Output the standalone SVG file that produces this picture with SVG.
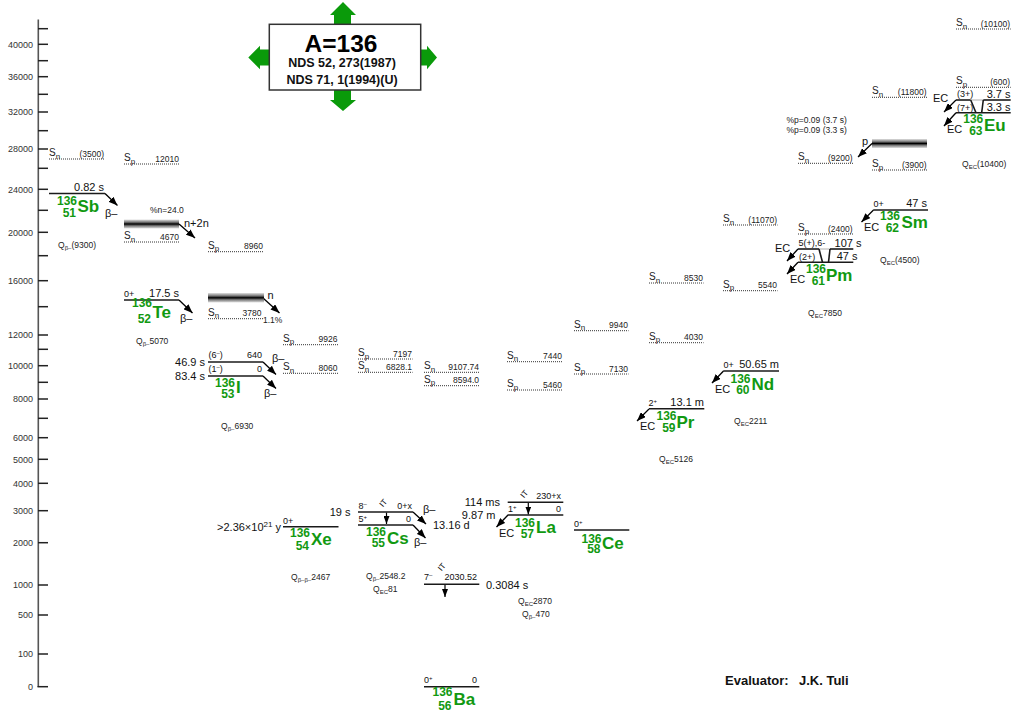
<svg xmlns="http://www.w3.org/2000/svg" width="1017" height="713" viewBox="0 0 1017 713">
<defs>
<style>
text{font-family:"Liberation Sans",Arial,sans-serif}
.ax{stroke:#555;stroke-width:1.6}
.tk{stroke:#222;stroke-width:1.5}
.tl{font-size:9px;fill:#333;text-anchor:end}
.lv{stroke:#1a1a1a;stroke-width:1.6;fill:none}
.lt{stroke:#999;stroke-width:0.8}
.dt{stroke:#333;stroke-width:1;stroke-dasharray:1 1}
.s{font-size:10px;fill:#222}
.sb{font-size:8px}
.sv{font-size:8.5px;fill:#222;text-anchor:end}
.q{font-size:8.5px;fill:#222}
.sp{font-size:9px;fill:#111}
.spe{font-size:9px;fill:#111;text-anchor:end}
.hl{font-size:11px;fill:#111}
.hle{font-size:11px;fill:#111;text-anchor:end}
.na{font-size:12px;font-weight:bold;fill:#119911;text-anchor:end}
.el{font-size:17px;font-weight:bold;fill:#119911}
.arr{stroke:#000;stroke-width:1.3;fill:none;marker-end:url(#ah)}
.itr{stroke:#000;stroke-width:1.2;fill:none;marker-end:url(#ahs)}
.itl{font-size:8px;fill:#111}
.ga{fill:#0a9a0a}
.band{fill:url(#bandg)}
</style>
<marker id="ah" viewBox="0 0 9 7" refX="9" refY="3.5" markerWidth="9" markerHeight="7" markerUnits="userSpaceOnUse" orient="auto"><path d="M0,0 L9,3.5 L0,7 z" fill="#000"/></marker>
<marker id="ahs" viewBox="0 0 8 6" refX="8" refY="3" markerWidth="8" markerHeight="6" markerUnits="userSpaceOnUse" orient="auto"><path d="M0,0 L8,3 L0,6 z" fill="#000"/></marker>
<linearGradient id="bandg" x1="0" y1="0" x2="0" y2="1">
<stop offset="0" stop-color="#e0e0e0"/><stop offset="0.3" stop-color="#777"/><stop offset="0.5" stop-color="#000"/><stop offset="0.7" stop-color="#777"/><stop offset="1" stop-color="#e0e0e0"/>
</linearGradient>
</defs>
<rect width="1017" height="713" fill="#fff"/>

<g id="axis">
<line class="ax" x1="38.3" y1="19.5" x2="38.3" y2="687"/>
<g class="tk">
<line x1="38" y1="28.7" x2="48" y2="28.7"/><line x1="38" y1="44.3" x2="48" y2="44.3"/><line x1="38" y1="60.7" x2="48" y2="60.7"/><line x1="38" y1="76.7" x2="48" y2="76.7"/><line x1="38" y1="94.3" x2="48" y2="94.3"/><line x1="38" y1="112" x2="48" y2="112"/><line x1="38" y1="130.7" x2="48" y2="130.7"/><line x1="38" y1="149" x2="48" y2="149"/><line x1="38" y1="168.3" x2="48" y2="168.3"/><line x1="38" y1="189.3" x2="48" y2="189.3"/><line x1="38" y1="210.3" x2="48" y2="210.3"/><line x1="38" y1="232.3" x2="48" y2="232.3"/><line x1="38" y1="255.7" x2="48" y2="255.7"/><line x1="38" y1="280.7" x2="48" y2="280.7"/><line x1="38" y1="306.7" x2="48" y2="306.7"/><line x1="38" y1="335" x2="48" y2="335"/><line x1="38" y1="349.3" x2="48" y2="349.3"/><line x1="38" y1="365.7" x2="48" y2="365.7"/><line x1="38" y1="382.3" x2="48" y2="382.3"/><line x1="38" y1="399" x2="48" y2="399"/><line x1="38" y1="418.3" x2="48" y2="418.3"/><line x1="38" y1="437.7" x2="48" y2="437.7"/><line x1="38" y1="459.3" x2="48" y2="459.3"/><line x1="38" y1="483.3" x2="48" y2="483.3"/><line x1="38" y1="510.7" x2="48" y2="510.7"/><line x1="38" y1="542.7" x2="48" y2="542.7"/><line x1="38" y1="585" x2="48" y2="585"/><line x1="38" y1="615" x2="48" y2="615"/><line x1="38" y1="654" x2="48" y2="654"/><line x1="37.5" y1="686.7" x2="48" y2="686.7"/>
</g>
<g class="tl">
<text x="33" y="47.5">40000</text><text x="33" y="80">36000</text><text x="33" y="115.3">32000</text><text x="33" y="152.3">28000</text><text x="33" y="192.6">24000</text><text x="33" y="235.6">20000</text><text x="33" y="284">16000</text><text x="33" y="338.3">12000</text><text x="33" y="369">10000</text><text x="33" y="402.3">8000</text><text x="33" y="441">6000</text><text x="33" y="462.6">5000</text><text x="33" y="486.6">4000</text><text x="33" y="514">3000</text><text x="33" y="546">2000</text><text x="33" y="588.3">1000</text><text x="33" y="618.3">500</text><text x="33" y="657.3">100</text><text x="33" y="690">0</text>
</g>
</g>

<g id="title">
<path class="ga" d="M334,24 V15 H330 L343,2 L356,15 H351 V24 Z"/>
<path class="ga" d="M334,90 V100 H330 L343,111 L356,100 H351 V90 Z"/>
<path class="ga" d="M269,49.5 H260 V45.7 L248.3,57.5 L260,69.3 V65.5 H269 Z"/>
<path class="ga" d="M421,49.5 H427 V45.7 L437,57.5 L427,69.3 V65.5 H421 Z"/>
<rect x="269.3" y="24.3" width="151.4" height="65.7" fill="#fff" stroke="#333" stroke-width="1.5"/>
<text x="341" y="51.5" font-size="24.5" font-weight="bold" text-anchor="middle" fill="#000">A=136</text>
<text x="342" y="67" font-size="12.5" font-weight="bold" text-anchor="middle" fill="#111">NDS 52, 273(1987)</text>
<text x="342" y="83.5" font-size="12.5" font-weight="bold" text-anchor="middle" fill="#111">NDS 71, 1(1994)(U)</text>
</g>

<g id="connectors">
<line class="arr" x1="105" y1="193.5" x2="117.5" y2="205.5"/>
<line class="arr" x1="179" y1="224" x2="195" y2="238"/>
<line class="arr" x1="179" y1="300" x2="192.5" y2="313"/>
<line class="arr" x1="263" y1="298" x2="279.5" y2="313"/>
<line class="arr" x1="263" y1="362" x2="276" y2="374.5"/>
<line class="arr" x1="263" y1="376" x2="276" y2="388.5"/>
<line class="arr" x1="413" y1="512" x2="426" y2="524"/>
<line class="arr" x1="413" y1="525" x2="425.5" y2="538"/>
<line class="itr" x1="386.5" y1="512.5" x2="386.5" y2="524"/>
<line class="itr" x1="445" y1="585" x2="445" y2="597"/>
<line class="itr" x1="528.3" y1="503" x2="528.3" y2="514.5"/>
<line class="arr" x1="508" y1="515" x2="496.5" y2="527"/>
<line class="arr" x1="649" y1="409" x2="637" y2="421"/>
<line class="arr" x1="723.5" y1="371" x2="712" y2="383"/>
<line class="arr" x1="798" y1="249" x2="787" y2="261"/>
<line class="arr" x1="798" y1="262.3" x2="787" y2="274"/>
<line class="arr" x1="873.5" y1="210" x2="861.5" y2="222"/>
<line class="arr" x1="956" y1="100" x2="944" y2="112"/>
<line class="arr" x1="956" y1="112.7" x2="944" y2="126"/>
<line class="arr" x1="872" y1="143.5" x2="858" y2="157"/>
</g>

<g id="Sb136">
<line class="dt" x1="49" y1="159" x2="104" y2="159"/>
<text class="s" x="49" y="156">S<tspan class="sb" dy="2.5">n</tspan></text>
<text class="sv" x="104" y="156.5">(3500)</text>
<line class="lv" x1="49" y1="193.5" x2="105" y2="193.5"/>
<text class="hle" x="104" y="190.5">0.82 s</text>
<text class="na" x="77" y="205">136</text><text class="na" x="76" y="216.5">51</text><text class="el" x="77.5" y="212">Sb</text>
<text class="hl" x="105" y="216.5">β–</text>
<text class="q" x="58" y="247.5">Q<tspan font-size="6" dy="2">β–</tspan><tspan dy="-2">(9300)</tspan></text>
</g>

<g id="Te136">
<line class="dt" x1="124" y1="164" x2="179" y2="164"/>
<text class="s" x="124" y="161">S<tspan class="sb" dy="2.5">p</tspan></text>
<text class="sv" x="179" y="161.5">12010</text>
<text class="q" x="150" y="213">%n=24.0</text>
<rect class="band" x="124" y="219.5" width="55" height="9"/>
<text class="hl" x="184" y="227">n+2n</text>
<line class="dt" x1="124" y1="242" x2="179" y2="242"/>
<text class="s" x="124" y="239">S<tspan class="sb" dy="2.5">n</tspan></text>
<text class="sv" x="179" y="239.5">4670</text>
<line class="lv" x1="124" y1="300" x2="179" y2="300"/>
<text class="sp" x="124" y="296.5">0+</text>
<text class="hle" x="179" y="296.5">17.5 s</text>
<text class="na" x="152" y="307">136</text><text class="na" x="151" y="322.5">52</text><text class="el" x="152.5" y="318">Te</text>
<text class="hl" x="180" y="322">β–</text>
<text class="q" x="136" y="344">Q<tspan font-size="6" dy="2">β–</tspan><tspan dy="-2">5070</tspan></text>
</g>

<g id="I136">
<line class="dt" x1="208" y1="251.7" x2="263" y2="251.7"/>
<text class="s" x="208" y="248.7">S<tspan class="sb" dy="2.5">p</tspan></text>
<text class="sv" x="263" y="249.2">8960</text>
<rect class="band" x="208" y="293" width="56" height="9.5"/>
<text class="hl" x="267.5" y="299">n</text>
<text class="q" x="263" y="323">1.1%</text>
<line class="dt" x1="208" y1="318.7" x2="263" y2="318.7"/>
<text class="s" x="208" y="315.7">S<tspan class="sb" dy="2.5">n</tspan></text>
<text class="sv" x="261.5" y="316.2">3780</text>
<line class="lv" x1="208" y1="362" x2="263" y2="362"/>
<line class="lv" x1="208" y1="376" x2="263" y2="376"/>
<text class="sp" x="208.5" y="358">(6<tspan font-size="6" dy="-3">–</tspan><tspan dy="3">)</tspan></text>
<text class="spe" x="262" y="358">640</text>
<text class="sp" x="208.5" y="372">(1<tspan font-size="6" dy="-3">–</tspan><tspan dy="3">)</tspan></text>
<text class="spe" x="262" y="372">0</text>
<text class="hle" x="205" y="365.5">46.9 s</text>
<text class="hle" x="205" y="380">83.4 s</text>
<text class="hl" x="272" y="362">β–</text>
<text class="hl" x="264" y="397">β–</text>
<text class="na" x="235" y="387">136</text><text class="na" x="234.5" y="397.5">53</text><text class="el" x="236" y="393">I</text>
<text class="q" x="221" y="428.5">Q<tspan font-size="6" dy="2">β–</tspan><tspan dy="-2">6930</tspan></text>
</g>

<g id="Xe136">
<line class="dt" x1="283" y1="344.7" x2="338" y2="344.7"/>
<text class="s" x="283" y="341.7">S<tspan class="sb" dy="2.5">p</tspan></text>
<text class="sv" x="337.5" y="342.2">9926</text>
<line class="dt" x1="283" y1="373.3" x2="338" y2="373.3"/>
<text class="s" x="283" y="370.3">S<tspan class="sb" dy="2.5">n</tspan></text>
<text class="sv" x="337.5" y="370.8">8060</text>
<line class="lv" x1="283" y1="526.7" x2="338.5" y2="526.7"/>
<text class="sp" x="283" y="523.5">0+</text>
<text class="hle" x="281" y="530.5">&gt;2.36×10<tspan font-size="8" dy="-3.5">21</tspan><tspan dy="3.5"> y</tspan></text>
<text class="na" x="310" y="537">136</text><text class="na" x="309" y="549.5">54</text><text class="el" x="311" y="545">Xe</text>
<text class="q" x="291" y="580">Q<tspan font-size="6" dy="2">β–β–</tspan><tspan dy="-2">2467</tspan></text>
</g>

<g id="Cs136">
<line class="dt" x1="358" y1="359" x2="412.5" y2="359"/>
<text class="s" x="358" y="356">S<tspan class="sb" dy="2.5">p</tspan></text>
<text class="sv" x="412" y="356.5">7197</text>
<line class="dt" x1="358" y1="372.3" x2="412.5" y2="372.3"/>
<text class="s" x="358" y="369.3">S<tspan class="sb" dy="2.5">n</tspan></text>
<text class="sv" x="412" y="369.8">6828.1</text>
<line class="lv" x1="358" y1="512" x2="413" y2="512"/>
<line class="lv" x1="358" y1="525" x2="413" y2="525"/>
<text class="sp" x="358.5" y="508.5">8<tspan font-size="6" dy="-3">–</tspan></text>
<text class="spe" x="412" y="508.5">0+x</text>
<text class="sp" x="358.5" y="521.5">5<tspan font-size="6" dy="-3">+</tspan></text>
<text class="spe" x="411" y="521.5">0</text>
<text class="itl" transform="translate(383,507.5) rotate(-50)">IT</text>
<text class="hle" x="350.5" y="516">19 s</text>
<text class="hl" x="423" y="512.5">β–</text>
<text class="hl" x="433" y="529">13.16 d</text>
<text class="hl" x="414" y="545.5">β–</text>
<text class="na" x="386" y="535.5">136</text><text class="na" x="385" y="547">55</text><text class="el" x="387" y="543.5">Cs</text>
<text class="q" x="366" y="579">Q<tspan font-size="6" dy="2">β–</tspan><tspan dy="-2">2548.2</tspan></text>
<text class="q" x="373" y="592">Q<tspan font-size="6" dy="2">EC</tspan><tspan dy="-2">81</tspan></text>
</g>

<g id="Ba136">
<line class="dt" x1="424" y1="372.3" x2="479" y2="372.3"/>
<text class="s" x="424" y="369.3">S<tspan class="sb" dy="2.5">n</tspan></text>
<text class="sv" x="479" y="369.8">9107.74</text>
<line class="dt" x1="424" y1="385.7" x2="479" y2="385.7"/>
<text class="s" x="424" y="382.7">S<tspan class="sb" dy="2.5">p</tspan></text>
<text class="sv" x="479" y="383.2">8594.0</text>
<line class="lv" x1="424" y1="584.3" x2="479.3" y2="584.3"/>
<text class="sp" x="424" y="580">7<tspan font-size="6" dy="-3">–</tspan></text>
<text class="spe" x="477" y="580">2030.52</text>
<text class="itl" transform="translate(441.5,571.5) rotate(-50)">IT</text>
<text class="hl" x="486" y="588.5">0.3084 s</text>
<line class="lv" x1="424" y1="686.7" x2="479.3" y2="686.7"/>
<text class="sp" x="424" y="682.5">0<tspan font-size="6" dy="-3">+</tspan></text>
<text class="spe" x="477" y="682.5">0</text>
<text class="na" x="452.5" y="696">136</text><text class="na" x="451.5" y="709.5">56</text><text class="el" x="453.5" y="705">Ba</text>
</g>

<g id="La136">
<line class="dt" x1="507" y1="361.7" x2="562" y2="361.7"/>
<text class="s" x="507" y="358.7">S<tspan class="sb" dy="2.5">n</tspan></text>
<text class="sv" x="562" y="359.2">7440</text>
<line class="dt" x1="507" y1="390" x2="562" y2="390"/>
<text class="s" x="507" y="387">S<tspan class="sb" dy="2.5">p</tspan></text>
<text class="sv" x="562" y="387.5">5460</text>
<line class="lv" x1="507.7" y1="502.3" x2="563.3" y2="502.3"/>
<line class="lv" x1="507.7" y1="515" x2="563.3" y2="515"/>
<text class="spe" x="561" y="498.5">230+x</text>
<text class="sp" x="508" y="512">1<tspan font-size="6" dy="-3">+</tspan></text>
<text class="spe" x="561" y="512">0</text>
<text class="itl" transform="translate(524,498.5) rotate(-50)">IT</text>
<text class="hle" x="500" y="505.5">114 ms</text>
<text class="hle" x="495.5" y="519">9.87 m</text>
<text class="hl" x="499" y="536.5">EC</text>
<text class="na" x="535" y="526.5">136</text><text class="na" x="534" y="538">57</text><text class="el" x="536" y="532.5">La</text>
<text class="q" x="518" y="604">Q<tspan font-size="6" dy="2">EC</tspan><tspan dy="-2">2870</tspan></text>
<text class="q" x="522" y="616.5">Q<tspan font-size="6" dy="2">β–</tspan><tspan dy="-2">470</tspan></text>
</g>

<g id="Ce136">
<line class="dt" x1="574" y1="330.7" x2="628.5" y2="330.7"/>
<text class="s" x="574" y="327.7">S<tspan class="sb" dy="2.5">n</tspan></text>
<text class="sv" x="628" y="328.2">9940</text>
<line class="dt" x1="574" y1="374" x2="628.5" y2="374"/>
<text class="s" x="574" y="371">S<tspan class="sb" dy="2.5">p</tspan></text>
<text class="sv" x="628" y="371.5">7130</text>
<line class="lv" x1="574" y1="530" x2="629.3" y2="530"/>
<text class="sp" x="574" y="526.5">0<tspan font-size="6" dy="-3">+</tspan></text>
<text class="na" x="601.5" y="542.5">136</text><text class="na" x="600.5" y="553">58</text><text class="el" x="602" y="548.5">Ce</text>
</g>

<g id="Pr136">
<line class="dt" x1="649" y1="283" x2="703.5" y2="283"/>
<text class="s" x="649" y="280">S<tspan class="sb" dy="2.5">n</tspan></text>
<text class="sv" x="703" y="280.5">8530</text>
<line class="dt" x1="649" y1="342.7" x2="703.5" y2="342.7"/>
<text class="s" x="649" y="339.7">S<tspan class="sb" dy="2.5">p</tspan></text>
<text class="sv" x="703" y="340.2">4030</text>
<line class="lv" x1="649" y1="408.7" x2="704.3" y2="408.7"/>
<text class="sp" x="648.5" y="406">2<tspan font-size="6" dy="-3">+</tspan></text>
<text class="hle" x="704" y="405.5">13.1 m</text>
<text class="hl" x="640" y="430">EC</text>
<text class="na" x="676.5" y="420">136</text><text class="na" x="675.5" y="431.5">59</text><text class="el" x="676.5" y="427.5">Pr</text>
<text class="q" x="659" y="462">Q<tspan font-size="6" dy="2">EC</tspan><tspan dy="-2">5126</tspan></text>
</g>

<g id="Nd136">
<line class="dt" x1="723" y1="225" x2="777.5" y2="225"/>
<text class="s" x="723" y="222">S<tspan class="sb" dy="2.5">n</tspan></text>
<text class="sv" x="777" y="222.5">(11070)</text>
<line class="dt" x1="723" y1="290.7" x2="777.5" y2="290.7"/>
<text class="s" x="723" y="287.7">S<tspan class="sb" dy="2.5">p</tspan></text>
<text class="sv" x="777" y="288.2">5540</text>
<line class="lv" x1="723.3" y1="371" x2="779" y2="371"/>
<text class="sp" x="723.5" y="368">0+</text>
<text class="hle" x="779" y="367.5">50.65 m</text>
<text class="hl" x="715" y="392.5">EC</text>
<text class="na" x="750.5" y="382.5">136</text><text class="na" x="749.5" y="393.5">60</text><text class="el" x="751.5" y="389.5">Nd</text>
<text class="q" x="734" y="424">Q<tspan font-size="6" dy="2">EC</tspan><tspan dy="-2">2211</tspan></text>
</g>

<g id="Pm136">
<line class="dt" x1="798" y1="163.3" x2="853" y2="163.3"/>
<text class="s" x="798" y="160.3">S<tspan class="sb" dy="2.5">n</tspan></text>
<text class="sv" x="852.5" y="160.8">(9200)</text>
<line class="dt" x1="798" y1="234" x2="853" y2="234"/>
<text class="s" x="798" y="231">S<tspan class="sb" dy="2.5">p</tspan></text>
<text class="sv" x="852.5" y="231.5">(2400)</text>
<line class="lv" x1="798" y1="249" x2="819" y2="249"/>
<line class="lt" x1="819" y1="249" x2="830" y2="249"/>
<line class="lv" x1="830" y1="249" x2="853.3" y2="249"/>
<line class="lv" x1="798" y1="262.3" x2="853.3" y2="262.3"/>
<polyline class="lv" points="819,249 822.5,262.3"/>
<polyline class="lv" points="828.5,262.3 830,249"/>
<text class="sp" x="798.5" y="246">5(+),6-</text>
<text class="hle" x="861.5" y="246.5">107 s</text>
<text class="sp" x="799" y="259.5">(2+)</text>
<text class="hle" x="857.5" y="260">47 s</text>
<text class="hl" x="775" y="252">EC</text>
<text class="hl" x="790" y="283">EC</text>
<text class="na" x="826" y="272.5">136</text><text class="na" x="825" y="284.5">61</text><text class="el" x="826" y="280.5">Pm</text>
<text class="q" x="808" y="316">Q<tspan font-size="6" dy="2">EC</tspan><tspan dy="-2">7850</tspan></text>
</g>

<g id="Sm136">
<line class="dt" x1="872" y1="97.3" x2="927" y2="97.3"/>
<text class="s" x="872" y="94.3">S<tspan class="sb" dy="2.5">n</tspan></text>
<text class="sv" x="926.5" y="94.8">(11800)</text>
<text class="q" x="786.5" y="122.5">%p=0.09 (3.7 s)</text>
<text class="q" x="786.5" y="132.5">%p=0.09 (3.3 s)</text>
<rect class="band" x="872" y="139" width="55" height="9"/>
<text class="hl" x="862" y="145">p</text>
<line class="dt" x1="872" y1="170" x2="927" y2="170"/>
<text class="s" x="872" y="167">S<tspan class="sb" dy="2.5">p</tspan></text>
<text class="sv" x="926.5" y="167.5">(3900)</text>
<line class="lv" x1="873.3" y1="210" x2="928" y2="210"/>
<text class="sp" x="873.5" y="206.5">0+</text>
<text class="hle" x="927" y="206.5">47 s</text>
<text class="hl" x="864" y="231">EC</text>
<text class="na" x="900" y="220">136</text><text class="na" x="899" y="231.5">62</text><text class="el" x="901.5" y="227.5">Sm</text>
<text class="q" x="880" y="263">Q<tspan font-size="6" dy="2">EC</tspan><tspan dy="-2">(4500)</tspan></text>
</g>

<g id="Eu136">
<line class="dt" x1="956" y1="29" x2="1010.7" y2="29"/>
<text class="s" x="956" y="26">S<tspan class="sb" dy="2.5">n</tspan></text>
<text class="sv" x="1010" y="26.5">(10100)</text>
<line class="dt" x1="956" y1="87.3" x2="1010.7" y2="87.3"/>
<text class="s" x="956" y="84.3">S<tspan class="sb" dy="2.5">p</tspan></text>
<text class="sv" x="1010" y="84.8">(600)</text>
<line class="lv" x1="956" y1="100" x2="970.7" y2="100"/>
<line class="lt" x1="970.7" y1="100" x2="983.3" y2="100"/>
<line class="lv" x1="983.3" y1="100" x2="1010.7" y2="100"/>
<line class="lv" x1="956" y1="112.7" x2="1010.7" y2="112.7"/>
<polyline class="lv" points="970.7,100 976,112.7"/>
<polyline class="lv" points="981.7,112.7 983.3,100"/>
<text class="sp" x="957" y="97">(3+)</text>
<text class="hle" x="1010.5" y="97.5">3.7 s</text>
<text class="sp" x="957" y="110.5">(7+)</text>
<text class="hle" x="1010.5" y="110.5">3.3 s</text>
<text class="hl" x="933" y="102">EC</text>
<text class="hl" x="947" y="133">EC</text>
<text class="na" x="983.3" y="122.5">136</text><text class="na" x="982.5" y="135">63</text><text class="el" x="984" y="131">Eu</text>
<text class="q" x="962" y="167">Q<tspan font-size="6" dy="2">EC</tspan><tspan dy="-2">(10400)</tspan></text>
</g>

<g id="evaluator">
<text x="725" y="684.5" font-size="13" font-weight="bold" fill="#111">Evaluator:</text>
<text x="799" y="684.5" font-size="13" font-weight="bold" fill="#111">J.K. Tuli</text>
</g>
</svg>
